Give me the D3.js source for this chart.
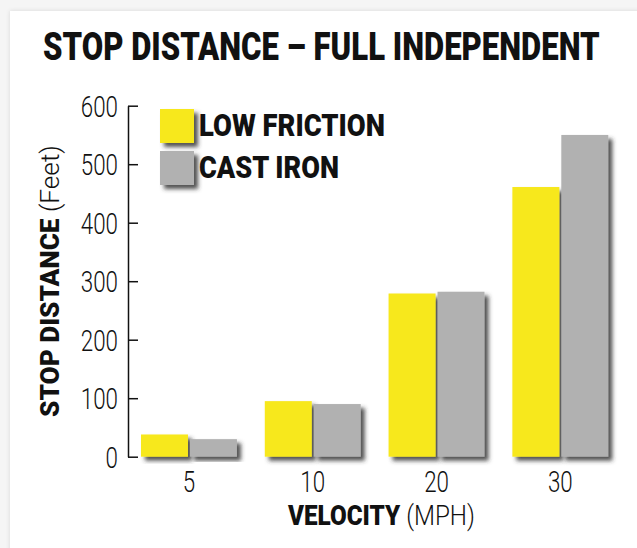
<!DOCTYPE html>
<html>
<head>
<meta charset="utf-8">
<script src="https://cdn.jsdelivr.net/npm/d3@7"></script>
<style>
  body { margin: 0; background: #f5f5f5; }
  #chart { width: 637px; height: 548px; }
  text { font-family: Roboto, "Liberation Sans", sans-serif; fill: #111; }
</style>
</head>
<body>
<div id="chart"></div>
<script>

// chart values
const velocities = ["5", "10", "20", "30"];
const series = ["LOW FRICTION", "CAST IRON"];
const lowFriction = [38, 95, 279, 461];
const castIron = [30, 90, 282, 550];
const yTicks = [0, 100, 200, 300, 400, 500, 600];

const colors = ["#f7e81e", "#b1b1b1"];

const width = 637;
const height = 548;

const svg = d3.select("#chart")
    .append("svg")
    .attr("width", width)
    .attr("height", height);

// squeeze a text horizontally so it spans w pixels, starting at x
function fitWidth(sel, x, y, w, rot) {
    const natural = sel.node().getComputedTextLength();
    const k = w / natural;
    if (rot) {
        sel.attr("transform", `translate(${x},${y}) rotate(-90) scale(${k},1)`);
    } else {
        sel.attr("transform", `translate(${x},${y}) scale(${k},1)`);
    }
}

/* FILTERS */
const defs = svg.append("defs");
const cardShadow = defs.append("filter").attr("id", "cardShadow")
    .attr("x", "-5%").attr("y", "-5%").attr("width", "110%").attr("height", "110%");
cardShadow.append("feDropShadow")
    .attr("dx", 0).attr("dy", 0).attr("stdDeviation", 2)
    .attr("flood-color", "#000").attr("flood-opacity", 0.12);

const barShadow = defs.append("filter").attr("id", "barShadow")
    .attr("x", "-20%").attr("y", "-20%").attr("width", "150%").attr("height", "150%");
barShadow.append("feDropShadow")
    .attr("dx", 4).attr("dy", 4).attr("stdDeviation", 2)
    .attr("flood-color", "#333").attr("flood-opacity", 0.85);

// white card
svg.append("rect")
    .attr("x", 10).attr("y", 11)
    .attr("width", width + 20).attr("height", height + 20)
    .attr("fill", "#fff")
    .attr("filter", "url(#cardShadow)");

/* SCALES */
const xScale = d3.scaleBand()
    .domain(velocities)
    .range([128, 621.3])
    .paddingInner(0.225)
    .paddingOuter(0.105);

const xSub = d3.scaleBand()
    .domain(series)
    .range([0, xScale.bandwidth()])
    .paddingInner(0.04);

const yScale = d3.scaleLinear()
    .domain([0, 600])
    .range([456.7, 105.7]);

/* TITLE */
const title = svg.append("text")
    .style("font-size", "39px")
    .style("font-weight", 900)
    .text("STOP DISTANCE \u2013 FULL INDEPENDENT");
fitWidth(title, 43, 60, 557);

/* BARS */
const rows = velocities.map(function(v, i) {
    return [
        {v: v, s: series[0], value: lowFriction[i], c: colors[0]},
        {v: v, s: series[1], value: castIron[i], c: colors[1]}
    ];
});

const groups = svg.selectAll("g.group")
    .data(rows)
    .enter()
    .append("g")
    .attr("class", "group")
    .attr("transform", function(d) { return `translate(${xScale(d[0].v)},0)`; });

groups.selectAll("rect")
    .data(function(d) { return d; })
    .enter()
    .append("rect")
    .attr("x", function(d) { return xSub(d.s); })
    .attr("y", function(d) { return yScale(d.value); })
    .attr("width", xSub.bandwidth())
    .attr("height", function(d) { return yScale(0) - yScale(d.value); })
    .attr("fill", function(d) { return d.c; })
    .attr("filter", "url(#barShadow)");

/* AXES */
const squeeze = 0.77;

const yAxis = svg.append("g")
    .attr("transform", "translate(128,0)")
    .call(d3.axisLeft(yScale).tickValues(yTicks).tickSizeInner(-10).tickSizeOuter(0).tickPadding(10));
yAxis.selectAll("path, line").attr("stroke", "#111").attr("stroke-width", 1.5);
yAxis.selectAll("text")
    .attr("fill", "#111")
    .attr("x", -10 / squeeze)
    .attr("dy", "0.36em")
    .attr("transform", `scale(${squeeze},1)`)
    .style("font-size", "29px")
    .style("font-weight", 300)
    .style("font-family", "Roboto, sans-serif");

const xAxis = svg.append("g")
    .attr("transform", "translate(0,470)")
    .call(d3.axisBottom(xScale).tickSize(0).tickPadding(0));
xAxis.select(".domain").remove();
xAxis.selectAll("text")
    .attr("fill", "#111")
    .attr("x", 0)
    .attr("dy", "0.75em")
    .attr("transform", `scale(${squeeze},1)`)
    .style("font-size", "29px")
    .style("font-weight", 300)
    .style("font-family", "Roboto, sans-serif");

/* AXIS LABELS */
const xLabel = svg.append("text")
    .style("font-size", "28px");
xLabel.append("tspan").style("font-weight", 900).text("VELOCITY ");
xLabel.append("tspan").style("font-weight", 300).text("(MPH)");
fitWidth(xLabel, 288, 525, 187);

const yLabel = svg.append("text")
    .style("font-size", "25px");
yLabel.append("tspan").style("font-weight", 900).text("STOP DISTANCE ");
yLabel.append("tspan").style("font-weight", 300).text("(Feet)");
fitWidth(yLabel, 59, 417, 272, true);

/* LEGEND */
const legend = svg.selectAll("g.legend")
    .data(series)
    .enter()
    .append("g")
    .attr("class", "legend")
    .attr("transform", function(d, i) { return `translate(160,${109 + i * 42})`; });

legend.append("rect")
    .attr("width", 34)
    .attr("height", 34)
    .attr("fill", function(d, i) { return colors[i]; })
    .attr("filter", "url(#barShadow)");

legend.append("text")
    .style("font-size", "31px")
    .style("font-weight", 900)
    .text(function(d) { return d; })
    .each(function(d, i) {
        fitWidth(d3.select(this), 39, 27, i === 0 ? 186 : 140);
    });

</script>
</body>
</html>
